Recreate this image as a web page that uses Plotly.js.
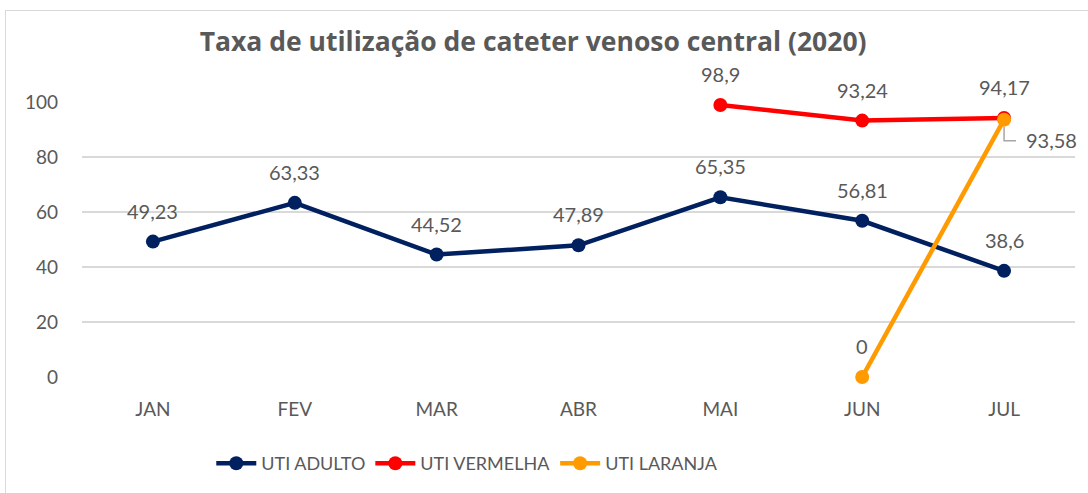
<!DOCTYPE html>
<html>
<head>
<meta charset="utf-8">
<script src="https://cdn.plot.ly/plotly-3.0.1.min.js"></script>
<style>
html,body{margin:0;padding:0;background:#fff;overflow:hidden;}
#wrap{position:relative;width:1088px;height:493px;}
#chart{position:absolute;left:0;top:0;width:1088px;height:493px;}
#frame{position:absolute;left:5px;top:10px;width:1100px;height:500px;border:1px solid #D9D9D9;pointer-events:none;}
</style>
</head>
<body>
<div id="wrap"><div id="chart"></div><div id="frame"></div></div>
<script>
const categories = ['JAN','FEV','MAR','ABR','MAI','JUN','JUL'];
const utiAdulto   = [49.23, 63.33, 44.52, 47.89, 65.35, 56.81, 38.6];
const utiVermelha = [null, null, null, null, 98.9, 93.24, 94.17];
const utiLaranja  = [null, null, null, null, null, 0, 93.58];
const seriesNames = ['UTI ADULTO','UTI VERMELHA','UTI LARANJA'];
const yTicks = [0, 20, 40, 60, 80, 100];

const colors = ['#002060', '#FF0000', '#FF9A00'];
const FONT = 'Lato, "Open Sans", sans-serif';
const GRAY = '#595959';

const allSeries = [utiAdulto, utiVermelha, utiLaranja];
const traces = allSeries.map((vals, i) => ({
  type: 'scatter', mode: 'lines+markers', name: seriesNames[i],
  x: categories, y: vals, connectgaps: false,
  line: {color: colors[i], width: 4.5},
  marker: {color: colors[i], size: 14},
  cliponaxis: false, hoverinfo: 'skip'
}));

const fmt = v => String(v).replace('.', ',');
const annotations = [];
allSeries.forEach((vals, i) => {
  vals.forEach((v, j) => {
    if (v === null) return;
    if (i === 2 && j === categories.length - 1) {
      annotations.push({x: categories[j], y: v, xref: 'x', yref: 'y', text: fmt(v), showarrow: false,
        xanchor: 'left', yanchor: 'middle', xshift: 20, yshift: -20,
        font: {family: FONT, size: 20, color: GRAY}});
    } else {
      annotations.push({x: categories[j], y: v, xref: 'x', yref: 'y', text: fmt(v), showarrow: false,
        xanchor: 'center', yanchor: 'middle', yshift: 31,
        font: {family: FONT, size: 20, color: GRAY}});
    }
  });
});

const julIdx = categories.indexOf('JUL');
const shapes = [{
  type: 'path', xref: 'x', yref: 'y', xsizemode: 'pixel', ysizemode: 'pixel',
  xanchor: julIdx, yanchor: utiLaranja[julIdx],
  path: 'M0,-7 L0,-21 L12,-21', line: {color: '#A6A6A6', width: 1.5}
}];

const layout = {
  width: 1088, height: 493,
  margin: {l: 82, r: 13, t: 102, b: 115},
  paper_bgcolor: '#fff', plot_bgcolor: '#fff',
  font: {family: FONT, color: GRAY},
  title: {text: '<b>Taxa de utilização de cateter venoso central (2020)</b>',
    font: {family: '"Open Sans", sans-serif', size: 26.5, color: GRAY},
    xref: 'container', yref: 'container', x: 0.49, xanchor: 'center', y: 1 - 42/493, yanchor: 'middle'},
  xaxis: {type: 'category', range: [-0.5, 6.5], showgrid: false, zeroline: false, showline: false,
    ticks: '', ticklabelstandoff: 19, tickfont: {family: FONT, size: 19, color: GRAY}, fixedrange: true},
  yaxis: {range: [0, 100], tickvals: yTicks, showgrid: true, gridcolor: '#D9D9D9', gridwidth: 1.5,
    zeroline: false, showline: false, ticks: '', ticklabelstandoff: 23,
    tickfont: {family: FONT, size: 19, color: GRAY}, fixedrange: true},
  showlegend: true,
  legend: {orientation: 'h', x: 0.388, xanchor: 'center', y: -0.31, yanchor: 'middle',
    font: {family: FONT, size: 18, color: GRAY}, itemwidth: 40},
  annotations: annotations,
  shapes: shapes
};

Plotly.newPlot('chart', traces, layout, {displayModeBar: false, staticPlot: true});
</script>
</body>
</html>
